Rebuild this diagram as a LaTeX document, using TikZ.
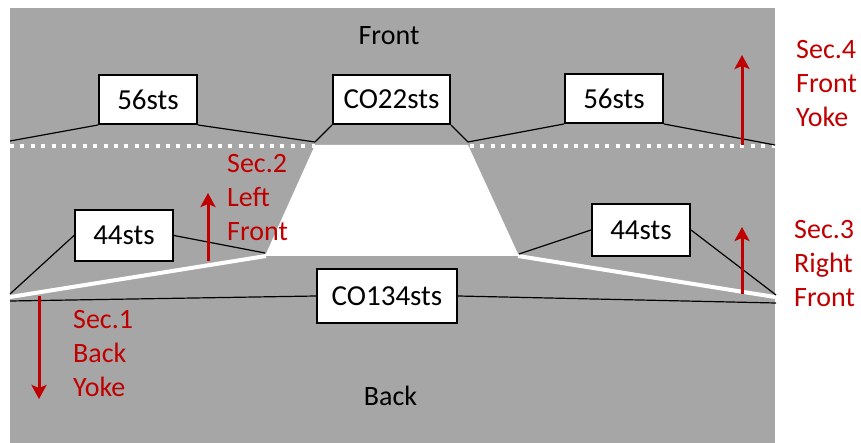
\documentclass[tikz,border=0pt]{standalone}
\usepackage{fontspec}
\setmainfont{Carlito}
\usetikzlibrary{arrows.meta}
\definecolor{bggray}{RGB}{166,166,166}
\definecolor{secred}{RGB}{192,0,0}
\tikzset{
  stsbox/.style={draw=black, line width=2pt, fill=white, inner sep=0pt,
    font=\fontsize{29}{34}\selectfont},
  link/.style={draw=black, line width=1.2pt},
  secarrow/.style={draw=secred, line width=3pt, -{Stealth[length=14pt,width=15pt,inset=3pt]}},
  seclabel/.style={text=secred, align=left, anchor=north west, inner sep=0pt,
    font=\fontsize{28}{34}\selectfont},
  sidelabel/.style={anchor=base, inner sep=0pt, font=\fontsize{28}{34}\selectfont},
  band/.style={draw=white, line width=4pt},
  yokeline/.style={draw=white, line width=4pt, dash pattern=on 4pt off 6.4pt}
}
\begin{document}
\begin{tikzpicture}[x=1pt,y=-1pt]
\useasboundingbox (0,0) rectangle (861,443);
% background
\fill[bggray] (10,8) rectangle (775,443);
% white slot (trapezoid) and bands
\fill[white] (315,145) -- (468,145) -- (519,256) -- (265,256) -- cycle;
\draw[band] (10,297) -- (266,256);
\draw[band] (518,256) -- (775,297);
% dotted yoke boundary
\draw[yokeline] (10,145.7) -- (315,145.7);
\draw[yokeline] (470,145.7) -- (775,145.7);

% boxes
\node[stsbox, minimum width=98pt, minimum height=49pt] (s56l) at (148,99.5) {56sts};
\node[stsbox, minimum width=117pt, minimum height=49pt] (co22) at (391.5,99.5) {CO22sts};
\node[stsbox, minimum width=98pt, minimum height=49pt] (s56r) at (614,98.5) {56sts};
\node[stsbox, minimum width=98pt, minimum height=51pt] (s44l) at (124,235.5) {44sts};
\node[stsbox, minimum width=98pt, minimum height=52pt] (s44r) at (641,230) {44sts};
\node[stsbox, minimum width=140pt, minimum height=54pt] (co134) at (387,296) {CO134sts};

% connector end points
\coordinate (pA) at (10,141);
\coordinate (pB) at (315,142);
\coordinate (pC) at (468,142);
\coordinate (pD) at (775,145);
\coordinate (pE) at (10,294);
\coordinate (pF) at (265,253);
\coordinate (pG) at (10,301);
\coordinate (pH) at (519,254);
\coordinate (pI) at (776,295);
\coordinate (pJ) at (776,303);

\draw[link] (pA) -- (s56l.south west);
\draw[link] (s56l.south east) -- (pB);
\draw[link] (co22.south west) -- (pB);
\draw[link] (co22.south east) -- (pC);
\draw[link] (pC) -- (s56r.south west);
\draw[link] (s56r.south east) -- (pD);
\draw[link] (pE) -- (s44l.west);
\draw[link] (s44l.east) -- (pF);
\draw[link] (pG) -- (co134.west);
\draw[link] (pH) -- (s44r.west);
\draw[link] (s44r.east) -- (pI);
\draw[link] (co134.east) -- (pJ);

% red arrows
\coordinate (a4s) at (742,145); \coordinate (a4e) at (742,55);
\coordinate (a2s) at (208,261); \coordinate (a2e) at (208,193);
\coordinate (a3s) at (742,294); \coordinate (a3e) at (742,227);
\coordinate (a1s) at (39,296);  \coordinate (a1e) at (39,399);
\draw[secarrow] (a4s) -- (a4e);
\draw[secarrow] (a2s) -- (a2e);
\draw[secarrow] (a3s) -- (a3e);
\draw[secarrow] (a1s) -- (a1e);

% red labels
\node[seclabel] (l4) at (796,40.5) {Sec.4\\Front\\Yoke};
\node[seclabel] (l2) at (227,154) {Sec.2\\Left\\Front};
\node[seclabel] (l3) at (794,220.5) {Sec.3\\Right\\Front};
\node[seclabel] (l1) at (73,310.5) {Sec.1\\Back\\Yoke};

% side labels
\node[sidelabel] (front) at (389,45) {Front};
\node[sidelabel] (back) at (390.5,405) {Back};
\end{tikzpicture}
\end{document}
